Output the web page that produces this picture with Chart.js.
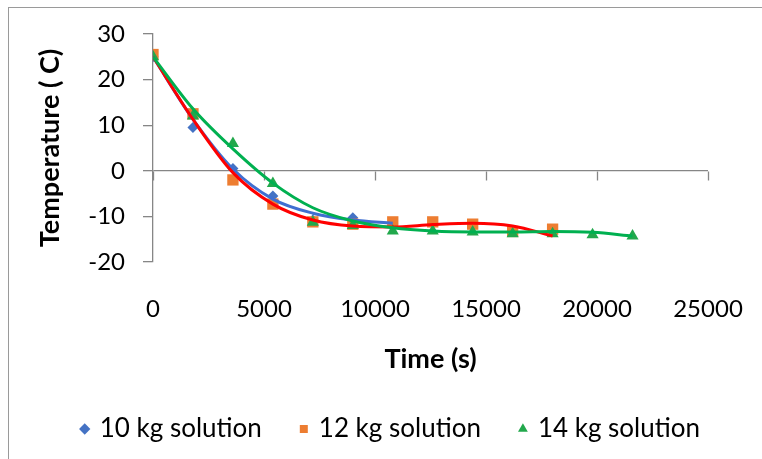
<!DOCTYPE html>
<html>
<head>
<meta charset="utf-8">
<script src="https://cdn.jsdelivr.net/npm/chart.js@4.4.0/dist/chart.umd.min.js"></script>
<style>
  html, body { margin: 0; padding: 0; background: #fff; }
  #wrap { position: relative; width: 762px; height: 459px; overflow: hidden; }
  #frame { position: absolute; left: 8px; top: 7px; width: 800px; height: 500px;
           border-top: 1px solid #9a9a9a; border-left: 1px solid #9a9a9a; }
  canvas { position: absolute; left: 0; top: 0; }
</style>
</head>
<body>
<div id="wrap">
  <div id="frame"></div>
  <canvas id="tempChart" width="762" height="459"></canvas>
</div>
<script>
// --- Measured data (time in s, temperature in C) ---
const times10 = [0, 1800, 3600, 5400, 7200, 9000, 10800];
const temp10  = [25, 9.5, 0.5, -5.5, -10.8, -10.3, -11.5];

const times12 = [0, 1800, 3600, 5400, 7200, 9000, 10800, 12600, 14400, 16200, 18000];
const temp12  = [25.5, 12.5, -2, -7.3, -11.2, -11.7, -11.2, -11.2, -11.7, -13.3, -12.8];

const times14 = [0, 1800, 3600, 5400, 7200, 9000, 10800, 12600, 14400, 16200, 18000, 19800, 21600];
const temp14  = [25, 12, 6, -2.8, -11.3, -12, -13.2, -13.2, -13.4, -13.8, -13.8, -14, -14.3];

// --- Trendline values ---
const trend10 = [25, 11.3, 0.4, -6.2, -9.3, -10.8, -11.5];
const trend12 = [25, 11.3, -0.4, -7.3, -10.8, -12.1, -12.3, -11.8, -11.5, -12.1, -14.3];
const trend14 = [25, 13.6, 4.8, -2.7, -8.1, -11, -12.5, -13.2, -13.4, -13.4, -13.3, -13.5, -14.3];

const seriesNames = ['10 kg solution', '12 kg solution', '14 kg solution'];
const xTicks = [0, 5000, 10000, 15000, 20000, 25000];
const yTicks = [-20, -10, 0, 10, 20, 30];

const FONT = 'Lato, "Open Sans", sans-serif';
const AXIS = '#868686';
const TEXT = '#000000';

const pts = (xs, ys) => xs.map((t, i) => ({ x: t, y: ys[i] }));

// later series sit on top of earlier ones, as in the spreadsheet
function markerSet(label, xs, ys, color, style, radius, order) {
    return {
        label, data: pts(xs, ys), order,
        pointStyle: style, pointRadius: radius, pointHoverRadius: radius,
        backgroundColor: color, borderColor: color, borderWidth: 0,
        showLine: false
    };
}
function trendSet(label, xs, ys, color, order) {
    return {
        label, data: pts(xs, ys), order,
        showLine: true, pointRadius: 0, borderColor: color, backgroundColor: color,
        borderWidth: 3, cubicInterpolationMode: 'monotone'
    };
}

// x-axis tick marks hang below the zero line
const zeroAxisTicks = {
    id: 'zeroAxisTicks',
    beforeDatasetsDraw(chart) {
        const { ctx, scales: { x, y } } = chart;
        const y0 = Math.round(y.getPixelForValue(0)) + 0.5;
        ctx.save();
        ctx.strokeStyle = AXIS;
        ctx.lineWidth = 1.3;
        x.ticks.forEach(t => {
            const px = Math.round(x.getPixelForValue(t.value)) + 0.5;
            ctx.beginPath();
            ctx.moveTo(px, y0);
            ctx.lineTo(px, y0 + 9);
            ctx.stroke();
        });
        ctx.restore();
    }
};

const ctx = document.getElementById('tempChart').getContext('2d');
new Chart(ctx, {
    type: 'scatter',
    data: {
        datasets: [
            trendSet('Trend 14', times14, trend14, '#00b050', 0),
            trendSet('Trend 12', times12, trend12, '#ff0000', 1),
            trendSet('Trend 10', times10, trend10, '#3f6fd1', 2),
            markerSet(seriesNames[0], times10, temp10, '#4472c4', 'rectRot', 5.5, 5),
            markerSet(seriesNames[1], times12, temp12, '#ed7d31', 'rect', 8, 4),
            markerSet(seriesNames[2], times14, temp14, '#22a84c', 'triangle', 7, 3)
        ]
    },
    options: {
        responsive: false,
        animation: false,
        layout: { padding: { left: 0, right: 22, top: 34, bottom: 7 } },
        plugins: {
            legend: {
                position: 'bottom',
                align: 'end',
                maxHeight: 84,
                labels: {
                    filter: item => !item.text.startsWith('Trend'),
                    sort: (a, b) => a.datasetIndex - b.datasetIndex,
                    usePointStyle: true,
                    boxWidth: 4, boxHeight: 8,
                    padding: 40,
                    color: TEXT,
                    font: { family: FONT, size: 26 }
                }
            },
            tooltip: { enabled: false }
        },
        scales: {
            x: {
                type: 'linear', min: 0, max: 25000,
                afterBuildTicks: s => { s.ticks = xTicks.map(v => ({ value: v })); },
                afterFit: s => { s.height = 114; s.paddingLeft = 0; s.paddingRight = 54; },
                ticks: { padding: 33, maxRotation: 0, color: TEXT, font: { family: FONT, size: 24 },
                         callback: v => String(v) },
                grid: { display: false, drawTicks: false },
                border: { display: false },
                title: { display: true, text: 'Time (s)', color: TEXT,
                         font: { family: FONT, size: 27, weight: 'bold' }, padding: { top: 0, bottom: 1 } }
            },
            y: {
                min: -20, max: 30,
                afterBuildTicks: s => { s.ticks = yTicks.map(v => ({ value: v })); },
                afterFit: s => { s.width = 153; s.paddingTop = 0; s.paddingBottom = 0; },
                ticks: { padding: 18, color: TEXT, font: { family: FONT, size: 24 },
                         callback: v => String(v) },
                grid: {
                    color: c => (c.tick && c.tick.value === 0) ? AXIS : 'rgba(0,0,0,0)',
                    tickColor: AXIS, tickLength: 10, lineWidth: 1.3
                },
                border: { display: true, color: AXIS, width: 1.3 },
                title: { display: true, text: 'Temperature ( C)', color: TEXT,
                         font: { family: FONT, size: 27, weight: 'bold' }, padding: { top: 34, bottom: 0 } }
            }
        }
    },
    plugins: [zeroAxisTicks]
});
</script>
</body>
</html>
